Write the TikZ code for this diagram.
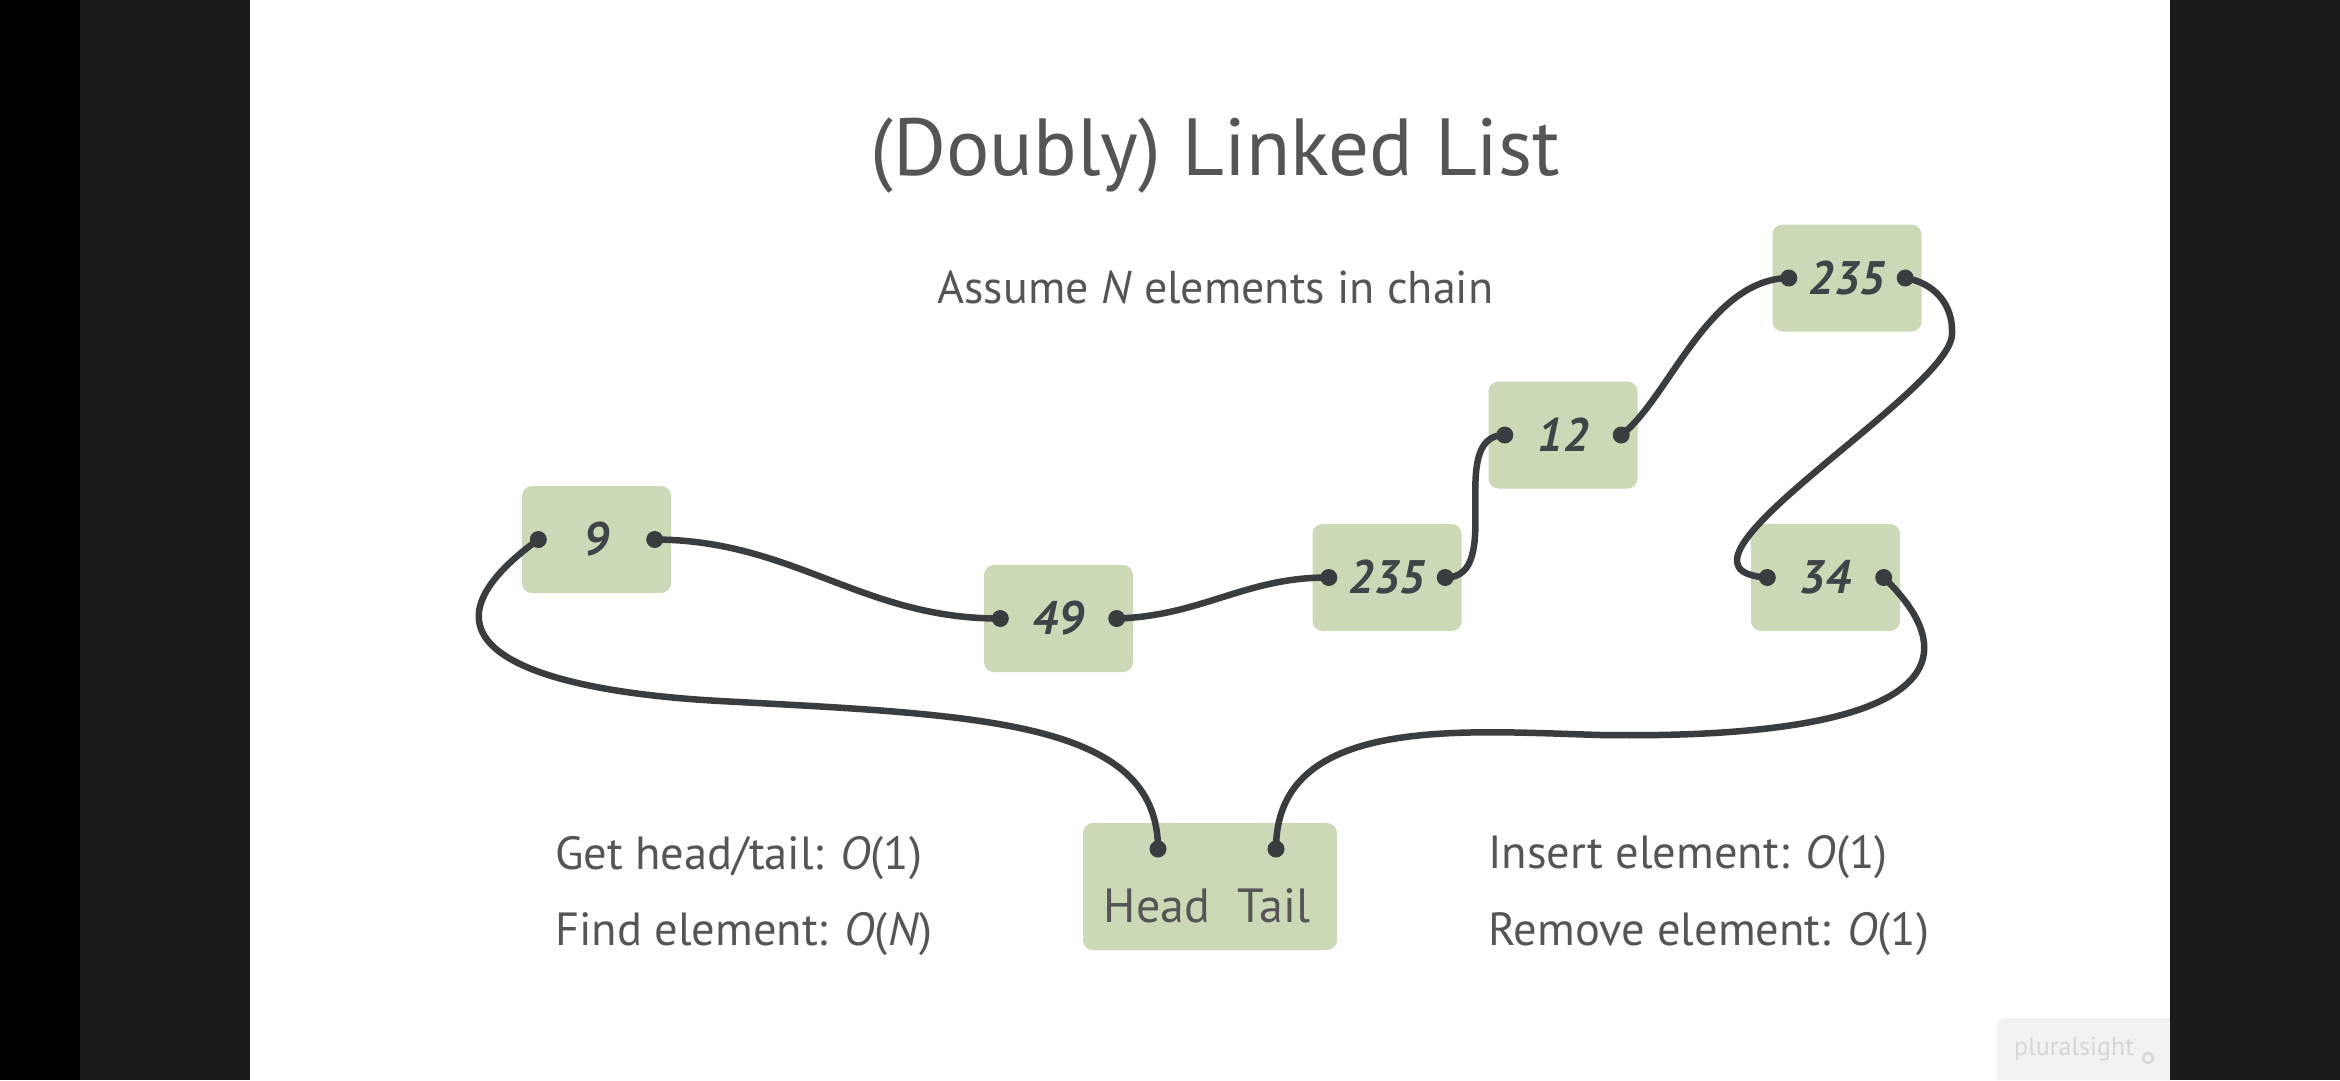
\documentclass[tikz,border=0pt]{standalone}
\usepackage{fontspec}
\setmainfont{PT Sans}
\usetikzlibrary{calc}
\definecolor{boxg}{RGB}{203,217,182}
\definecolor{txt}{RGB}{85,85,85}
\definecolor{num}{RGB}{62,68,71}
\definecolor{wire}{RGB}{58,61,63}
\definecolor{barA}{RGB}{26,26,26}
\definecolor{wmbg}{RGB}{242,242,242}
\definecolor{wmtx}{RGB}{214,214,214}
\begin{document}
\begin{tikzpicture}[x=1pt,y=-1pt,
  elem/.style={rounded corners=10pt, fill=boxg, minimum width=149pt, minimum height=107pt, inner sep=0pt, text=num, font=\fontsize{47}{56}\selectfont\bfseries\itshape},
  htbox/.style={rounded corners=10pt, fill=boxg, minimum width=254pt, minimum height=127pt, inner sep=0pt},
  link/.style={draw=wire, line width=6.5pt, line cap=round},
  pin/.style={fill=wire},
  lbl/.style={text=txt, inner sep=0pt, font=\fontsize{46.5}{56}\selectfont},
  sublbl/.style={text=txt, inner sep=0pt, font=\fontsize{46}{55}\selectfont},
  htlbl/.style={text=txt, inner sep=0pt, font=\fontsize{48}{58}\selectfont},
  ttl/.style={text=txt, inner sep=0pt, font=\fontsize{81}{96}\selectfont}]
\useasboundingbox (0,0) rectangle (2340,1080);
% backgrounds
\fill[white] (0,0) rectangle (2340,1080);
\fill[black] (0,0) rectangle (80,1080);
\fill[barA] (80,0) rectangle (250,1080);
% watermark
\fill[wmbg] (2170,1080) -- (1997,1080) -- (1997,1026) arc[start angle=180, end angle=90, radius=8pt] -- (2170,1018) -- cycle;
\node[anchor=base west, inner sep=0pt, text=wmtx, font=\fontsize{26}{30}\selectfont] (wm) at (2014,1055) {pluralsight};
\draw[wmtx, line width=2.5pt] (2148,1058) circle[radius=5pt];
\fill[barA] (2170,0) rectangle (2340,1080);

% titles
\node[ttl, anchor=base] (title) at (1215.5,175) {(Doubly) Linked List};
\node[sublbl, anchor=base] (sub) at (1215.5,303) {Assume \textit{N} elements in chain};

% element boxes
\node[elem] (n9) at (596.5,539.5) {9};
\node[elem] (n49) at (1058.5,618.5) {49};
\node[elem] (n235a) at (1387,577.5) {235};
\node[elem] (n12) at (1563,435) {12};
\node[elem] (n235b) at (1847,278) {235};
\node[elem] (n34) at (1825.5,577.5) {34};
\node[htbox] (ht) at (1210,886.5) {};
\node[htlbl, anchor=base] (head) at (1157,922) {Head};
\node[htlbl, anchor=base] (tail) at (1274,922) {Tail};

% complexity labels
\node[lbl, anchor=base west] (c1) at (555,869) {Get head/tail: \textit{O}(1)};
\node[lbl, anchor=base west] (c2) at (555,945) {Find element: \textit{O}(\textit{N})};
\node[lbl, anchor=base west] (c3) at (1488,868) {Insert element: \textit{O}(1)};
\node[lbl, anchor=base west] (c4) at (1488,945) {Remove element: \textit{O}(1)};

% dot coordinates
\foreach \n in {n9,n49,n235a,n12,n235b,n34}{
  \coordinate (\n L) at ($(\n.west)+(16.5,0)$);
  \coordinate (\n R) at ($(\n.east)+(-16.5,0)$);
}
\coordinate (hL) at (1158,849);
\coordinate (hR) at (1276,849);

% links
\draw[link] (n9R) .. controls (794,540) and (862,619) .. (n49L);
\draw[link] (n49R) .. controls (1202,616) and (1245,577) .. (n235aL);
\draw[link] (n235aR) .. controls (1507,578) and (1444,435) .. (n12L);
\draw[link] (n12R) .. controls (1668,400) and (1708,279) .. (n235bL);
\draw[link] (n235bR) .. controls (1935,283) and (1953,305) .. (1952,333)
                      .. controls (1955,390) and (1640,570) .. (n34L);
\draw[link] (n9L) .. controls (400,640) and (520,690) .. (720,701)
                  .. controls (980,715) and (1158,720) .. (hL);
\draw[link] (n34R) .. controls (1975,665) and (1925,740) .. (1600,735)
                   .. controls (1460,731) and (1276,715) .. (hR);

% dots
\foreach \p in {n9L,n9R,n49L,n49R,n235aL,n235aR,n12L,n12R,n235bL,n235bR,n34L,n34R,hL,hR}{
  \fill[pin] (\p) circle[radius=8.5pt];
}
\end{tikzpicture}
\end{document}
